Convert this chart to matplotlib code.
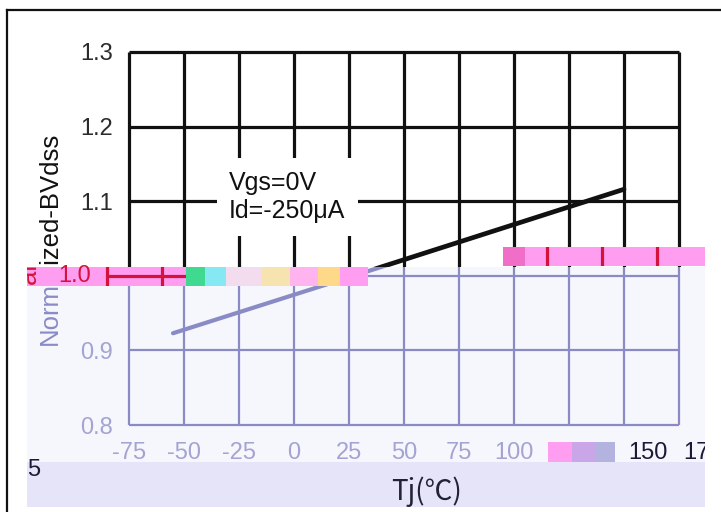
import matplotlib
matplotlib.use('Agg')
import matplotlib.pyplot as plt
from matplotlib.patches import Rectangle
from matplotlib.lines import Line2D
from matplotlib.transforms import offset_copy, ScaledTranslation

plt.rcParams['font.family'] = ['Liberation Sans', 'DejaVu Sans']

# breakdown voltage vs junction temperature
temps = [-75, -50, -25, 0, 25, 50, 75, 100, 125, 150, 175]
bv_levels = [0.8, 0.9, 1.0, 1.1, 1.2, 1.3]
tj = [-55, 25, 150]
bvdss = [0.923, 0.998, 1.116]

W, H = 721, 512
fig = plt.figure(figsize=(W / 100, H / 100), dpi=100)


def box(x0, y0, x1, y1, **kw):
    # rectangle given in pixels from the top-left corner
    return Rectangle((x0 / W, 1 - y1 / H), (x1 - x0) / W, (y1 - y0) / H,
                     transform=fig.transFigure, **kw)


ink = '#111111'
peri = '#8a8bc5'
peri_txt = '#a4a4d2'
navy = '#1a1a38'
red = '#d4123c'
pink = '#ff9ef0'

upper = box(0, 0, W, 267)
lower = box(27, 267, 705, 512)
band1 = box(27, 267, 186, 286)
band2 = box(503, 247, 705, 266)

# tinted lower part of the page
fig.add_artist(box(27, 267, 705, 507, fc='#f6f6fd', ec='none', zorder=-2))
fig.add_artist(box(27, 462, 705, 507, fc='#e6e4f8', ec='none', zorder=-1))

ax = fig.add_axes([129 / W, 1 - 425 / H, 550 / W, 373 / H])
ax.set_facecolor('none')
for s in ax.spines.values():
    s.set_visible(False)
ax.set_xlim(-75, 175)
ax.set_ylim(0.8, 1.3)


def draw_layer(axis, color, grid_lw, curve_lw, clip, transform=None):
    tr = transform if transform is not None else axis.transData
    arts = [axis.vlines(temps, 0.8, 1.3, colors=color, lw=grid_lw, transform=tr),
            axis.hlines(bv_levels, -75, 175, colors=color, lw=grid_lw, transform=tr)]
    if curve_lw:
        arts += axis.plot(tj, bvdss, color=color, lw=curve_lw, transform=tr,
                          solid_capstyle='round')
    for a in arts:
        a.set_clip_path(clip)
    return arts


draw_layer(ax, ink, 2.3, 3.4, upper)
draw_layer(ax, peri, 1.6, 3.0, lower)

ax.text(-29.5, 1.1056, 'Vgs=0V\nId=-250μA', fontsize=18, color=ink,
        ha='left', va='center', linespacing=1.25, zorder=4,
        bbox=dict(facecolor='white', edgecolor='none', boxstyle='square,pad=0.5'))

# ticks
ax.set_xticks(temps)
ax.set_xticklabels([str(t) for t in temps])
ax.set_yticks(bv_levels)
ax.set_yticklabels(['0.8', '0.9', '', '1.1', '1.2', '1.3'])
ax.tick_params(length=0, labelsize=17)
ax.tick_params(axis='x', pad=12)
ax.tick_params(axis='y', pad=11.5)
for lbl, v in zip(ax.get_yticklabels(), bv_levels):
    lbl.set_color(peri_txt if v < 1.0 else '#2b2b2b')
shift_r = ScaledTranslation(24 / 100, 0, fig.dpi_scale_trans)
for lbl, t in zip(ax.get_xticklabels(), temps):
    if t >= 150:
        lbl.set_color(navy)
        lbl.set_transform(lbl.get_transform() + shift_r)
    else:
        lbl.set_color(peri_txt)
ax.get_xticklabels()[-1].set_clip_path(box(0, 0, 705, H))
fig.text(27 / W, 1 - 470 / H, '5', fontsize=17, color=navy, ha='left', va='center')

# y label, split between the two tones
ylab = 'Normalized-BVdss'
t1 = fig.text(50 / W, 1 - 238 / H, ylab, rotation=90, ha='center', va='center',
              fontsize=18.5, color=ink)
t1.set_clip_path(upper)
t2 = fig.text(50 / W, 1 - 238 / H, ylab, rotation=90, ha='center', va='center',
              fontsize=18.5, color=peri)
t2.set_clip_path(lower)

fig.text(427 / W, 1 - 492 / H, 'Tj(℃)', fontsize=20, color='#222233',
         ha='center', va='center', family=['Noto Sans CJK SC', 'DejaVu Sans'])

# pink streaks
fig.add_artist(box(27, 267, 186, 286, fc=pink, ec='none', zorder=5))
noise = [(186, 205, '#3fd98f'), (205, 226, '#86e8f2'), (226, 262, '#f4dcef'),
         (262, 290, '#f7e3b0'), (290, 318, '#ffb4f0'), (318, 340, '#ffd98a'),
         (340, 368, pink)]
for x0, x1, c in noise:
    fig.add_artist(box(x0, 267, x1, 286, fc=c, ec='none', zorder=5))
fig.add_artist(box(503, 247, 705, 266, fc=pink, ec='none', zorder=5))
fig.add_artist(box(503, 247, 525, 266, fc='#f06ec8', ec='none', zorder=5))
fig.add_artist(box(548, 442, 572, 462, fc=pink, ec='none', zorder=5))
fig.add_artist(box(572, 442, 595, 462, fc='#c9a6e8', ec='none', zorder=5))
fig.add_artist(box(595, 442, 615, 462, fc='#b4b2de', ec='none', zorder=5))

# shifted red copy inside the streaks
ov = fig.add_axes(ax.get_position(), zorder=6)
ov.set_xlim(-75, 175)
ov.set_ylim(0.8, 1.3)
ov.axis('off')
shift = offset_copy(ov.transData, fig=fig, x=-22, y=0, units='dots')
draw_layer(ov, red, 2.3, 0, band1, shift)
draw_layer(ov, red, 2.3, 0, band2, shift)
ov.text(-75, 1.0, '1.0', transform=offset_copy(ov.transData, fig=fig, x=-38, y=0, units='dots'),
        ha='right', va='center', fontsize=17, color=red)
t3 = fig.text(28 / W, 1 - 238 / H, ylab, rotation=90, ha='center', va='center',
              fontsize=18.5, color=red, zorder=7)
t3.set_clip_path(band1)

# page frame
fig.add_artist(Line2D([7 / W, 7 / W], [0, 1 - 10 / H], transform=fig.transFigure,
                      color=ink, lw=1.6))
fig.add_artist(Line2D([7 / W, 1], [1 - 10 / H, 1 - 10 / H], transform=fig.transFigure,
                      color=ink, lw=1.6))

fig.savefig('out.png', dpi=100)
